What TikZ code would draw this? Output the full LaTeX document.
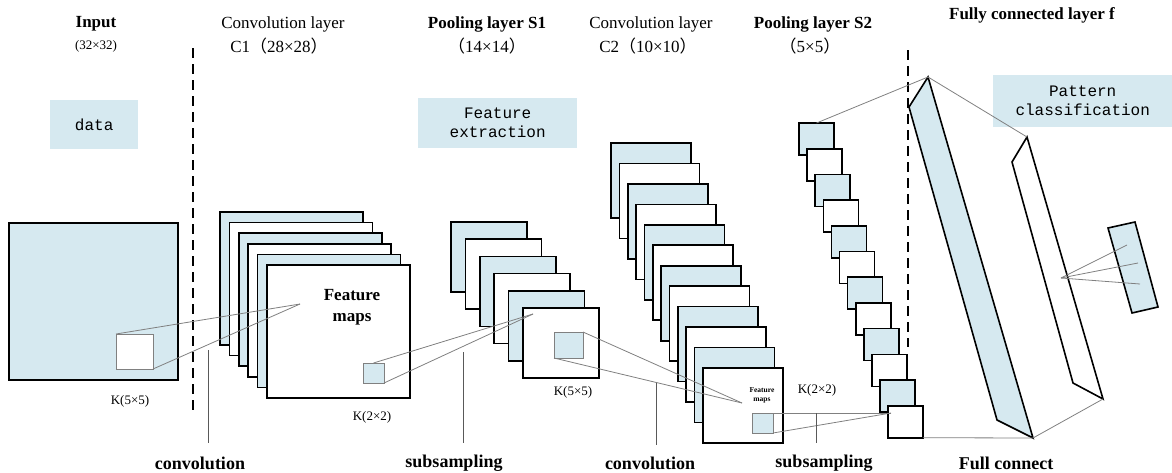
\documentclass[tikz,border=0pt]{standalone}
\usepackage{fontspec}
\setmainfont{Liberation Serif}
\setmonofont{Liberation Mono}
\newfontfamily\cjk{Noto Sans CJK SC}
\usepackage{tikz}
\usetikzlibrary{positioning}
\definecolor{lblue}{RGB}{214,233,240}
\tikzstyle{layer}    = [rectangle, draw=black, line width=1.6pt, inner sep=0pt, outer sep=0pt, anchor=north west]
\tikzstyle{kernel}   = [rectangle, draw=gray, line width=0.8pt, inner sep=0pt, outer sep=0pt, anchor=north west]
\tikzstyle{slab}     = [draw=black, line width=1.6pt, line join=miter]
\tikzstyle{link}     = [draw=gray, line width=0.8pt]
\tikzstyle{opline}   = [draw=gray!70!black, line width=0.9pt]
\tikzstyle{divider}  = [draw=black, line width=1.5pt, dash pattern=on 10pt off 6pt]
\tikzstyle{tag}      = [fill=lblue, inner sep=0pt, anchor=north west, align=center, font=\ttfamily\fontsize{16}{19}\selectfont]
\tikzstyle{title}    = [inner sep=0pt, font=\bfseries\fontsize{17}{20}\selectfont]
\tikzstyle{subtitle} = [inner sep=0pt, font=\fontsize{17}{20}\selectfont]
\tikzstyle{dimlabel} = [inner sep=0pt, font=\fontsize{13}{15}\selectfont]
\tikzstyle{oplabel}  = [inner sep=0pt, font=\bfseries\fontsize{18}{20}\selectfont]

\begin{document}
\begin{tikzpicture}[x=1pt, y=-1pt]
    \useasboundingbox (0,0) rectangle (1172,472);

    % headings
    \node (tin)  [title] at (96,24) {Input};
    \node (tin2) [dimlabel] at (96,46) {(32×32)};
    \node (tc1)  [subtitle] at (283,24) {Convolution layer};
    \node (tc1b) [subtitle] at (279,46) {C1{\cjk（}28×28{\cjk）}};
    \node (ts1)  [title] at (487,24) {Pooling layer S1};
    \node (ts1b) [subtitle] at (487,46) {{\cjk（}14×14{\cjk）}};
    \node (tc2)  [subtitle] at (651,24) {Convolution layer};
    \node (tc2b) [subtitle] at (648,46) {C2{\cjk（}10×10{\cjk）}};
    \node (ts2)  [title] at (813,24) {Pooling layer S2};
    \node (ts2b) [subtitle] at (810,46) {{\cjk（}5×5{\cjk）}};
    \node (tfc)  [title] at (1032,15) {Fully connected layer f};

    % blue tags
    \node (data) [tag, minimum width=88pt, minimum height=49pt] at (50,100) {data};
    \node (fext) [tag, minimum width=159pt, minimum height=50pt] at (418,98) {Feature\\extraction};
    \node (pcls) [tag, minimum width=179pt, minimum height=52pt] at (993,75) {Pattern\\classification};

    % dividers
    \draw [divider] (193,48) -- (193,410);
    \draw [divider] (908,50) -- (908,347);

    % input
    \node (in) [layer, fill=lblue, minimum width=169pt, minimum height=157pt] at (9,223) {};
    \node (k1) [kernel, fill=white, minimum width=37pt, minimum height=35pt] at (116,334) {};
    \node (kin) [dimlabel] at (130,401) {K(5×5)};

    % C1
    \foreach \i in {0,...,5}{
        \ifodd\i\relax\def\fc{white}\else\def\fc{lblue}\fi
        \node (c1-\i) [layer, fill=\fc, minimum width=143pt, minimum height=133pt] at ({220+9.4*\i},{212+10.6*\i}) {};
    }
    \node (fm1) [font=\bfseries\fontsize{17}{21}\selectfont, align=center, inner sep=0pt] at (352,307) {Feature\\maps};
    \node (k2) [kernel, fill=lblue, minimum width=21pt, minimum height=20pt] at (363,363) {};
    \node (kc1) [dimlabel] at (372,417) {K(2×2)};
    \coordinate (p1) at (300,304);

    % S1
    \foreach \i in {0,...,5}{
        \ifodd\i\relax\def\fc{white}\else\def\fc{lblue}\fi
        \node (s1-\i) [layer, fill=\fc, minimum width=76pt, minimum height=70pt] at ({451+14.4*\i},{222+17.2*\i}) {};
    }
    \node (k3) [kernel, fill=lblue, minimum width=29pt, minimum height=26pt] at (554,332) {};
    \node (ks1) [dimlabel] at (573,392) {K(5×5)};
    \coordinate (p2) at (533,314);

    % C2
    \foreach \i in {0,...,11}{
        \ifodd\i\relax\def\fc{white}\else\def\fc{lblue}\fi
        \node (c2-\i) [layer, fill=\fc, minimum width=80pt, minimum height=75pt] at ({611+8.36*\i},{143+20.45*\i}) {};
    }
    \node (fm2) [font=\bfseries\fontsize{7.5}{9}\selectfont, align=center, inner sep=0pt] at (762,395) {Feature\\maps};
    \node (k4) [kernel, fill=lblue, minimum width=21pt, minimum height=20pt] at (752,413) {};
    \node (kc2) [dimlabel] at (817,390) {K(2×2)};
    \coordinate (p3) at (742,403);

    % S2
    \foreach \i in {0,...,11}{
        \ifodd\i\relax\def\fc{white}\else\def\fc{lblue}\fi
        \node (s2-\i) [layer, fill=\fc, minimum width=35pt, minimum height=32pt] at ({799+8.1*\i},{123+25.7*\i}) {};
    }
    \coordinate (p4) at (891,413);

    % fully connected
    \coordinate (f1a) at (928,77);
    \coordinate (f1b) at (909,107);
    \coordinate (f1c) at (997,420);
    \coordinate (f1d) at (1033,438);
    \coordinate (f2a) at (1027,137);
    \coordinate (f2b) at (1012,162);
    \coordinate (f2c) at (1073,383);
    \coordinate (f2d) at (1103,399);
    \coordinate (p5)  at (1061,278);
    \draw [slab, fill=lblue] (f1a) -- (f1b) -- (f1c) -- (f1d) -- cycle;
    \draw [slab, fill=white] (f2a) -- (f2b) -- (f2c) -- (f2d) -- cycle;
    \draw [slab, fill=lblue] (1108,228) coordinate (o1) -- (1135,222) coordinate (o2)
        -- (1158,307) coordinate (o3) -- (1132,313) coordinate (o4) -- cycle;
    \coordinate (q1) at (1127,245);
    \coordinate (q2) at (1138,263);
    \coordinate (q3) at (1140,284);

    % connections
    \draw [link] (k1.north west) -- (p1);
    \draw [link] (k1.south east) -- (p1);
    \draw [link] (k2.north) -- (p2);
    \draw [link] (k2.south east) -- (p2);
    \draw [link] (k3.north east) -- (p3);
    \draw [link] (k3.south west) -- (p3);
    \draw [link] (k4.north east) -- (p4);
    \draw [link] (k4.south east) -- (p4);
    \draw [link] (s2-0.north) -- (f1a);
    \draw [link] (s2-11.south east) -- (f1d);
    \draw [link] (f1a) -- (f2a);
    \draw [link] (f1d) -- (f2d);
    \draw [link] (p5) -- (q1);
    \draw [link] (p5) -- (q2);
    \draw [link] (p5) -- (q3);

    % operations
    \draw [opline] (208,350) -- (208,443);
    \draw [opline] (463,352) -- (463,443);
    \draw [opline] (656,383) -- (656,445);
    \draw [opline] (816,413) -- (816,443);
    \node (op1) [oplabel] at (200,463) {convolution};
    \node (op2) [oplabel] at (454,463) {subsampling};
    \node (op3) [oplabel] at (650,463) {convolution};
    \node (op4) [oplabel] at (824,463) {subsampling};
    \node (op5) [oplabel] at (1006,463) {Full connect};
\end{tikzpicture}
\end{document}
